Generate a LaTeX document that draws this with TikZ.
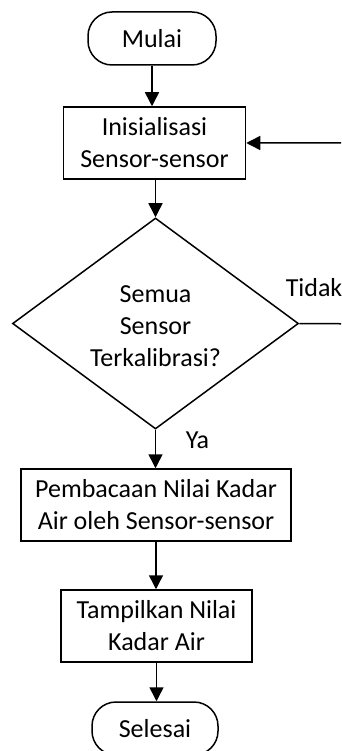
\documentclass[tikz,border=0pt]{standalone}
\usepackage{fontspec}
\setmainfont{Carlito}
\usetikzlibrary{arrows.meta,shapes.geometric}
\begin{document}
\begin{tikzpicture}[x=1pt,y=-1pt,
  font=\fontsize{26}{32}\selectfont,
  line width=1.5pt,
  box/.style={draw, rectangle, inner sep=0pt, align=center},
  term/.style={draw, rectangle, rounded corners=24pt, inner sep=0pt},
  dec/.style={draw, diamond, inner sep=0pt},
  arr/.style={-{Triangle[length=14pt,width=14pt]}}]
\useasboundingbox (0,0) rectangle (341,751);
\clip (0,0) rectangle (341,751);
\node[term, minimum width=128pt, minimum height=53pt] (start) at (152,38.5) {Mulai};
\node[box, minimum width=182pt, minimum height=72pt] (init) at (154.5,143) {Inisialisasi\\Sensor-sensor};
\node[dec, minimum width=286pt, minimum height=211pt] (dec) at (155.5,323.5) {};
\node[align=center, inner sep=0pt] (dectext) at (155.5,326) {Semua\\Sensor\\Terkalibrasi?};
\node[box, minimum width=270pt, minimum height=72pt] (read) at (156,505) {Pembacaan Nilai Kadar\\Air oleh Sensor-sensor};
\node[box, minimum width=191pt, minimum height=72pt] (show) at (156.5,626) {Tampilkan Nilai\\Kadar Air};
\node[term, minimum width=126pt, minimum height=53pt] (end) at (155,728.5) {Selesai};
\node[anchor=base west, inner sep=0pt] (ya) at (185,448) {Ya};
\node[anchor=base west, inner sep=0pt] (tidak) at (285,296) {Tidak};
\coordinate (loop) at (380,324);
\draw[arr] (start.south) -- (start.south |- init.north);
\draw[arr] (init.south -| dec.north) -- (dec.north);
\draw[arr] (dec.south) -- (dec.south |- read.north);
\draw[arr] (read.south) -- (read.south |- show.north);
\draw[arr] (show.south) -- (show.south |- end.north);
\draw[arr] (dec.east) -- (loop) |- (init.east);
\end{tikzpicture}
\end{document}
